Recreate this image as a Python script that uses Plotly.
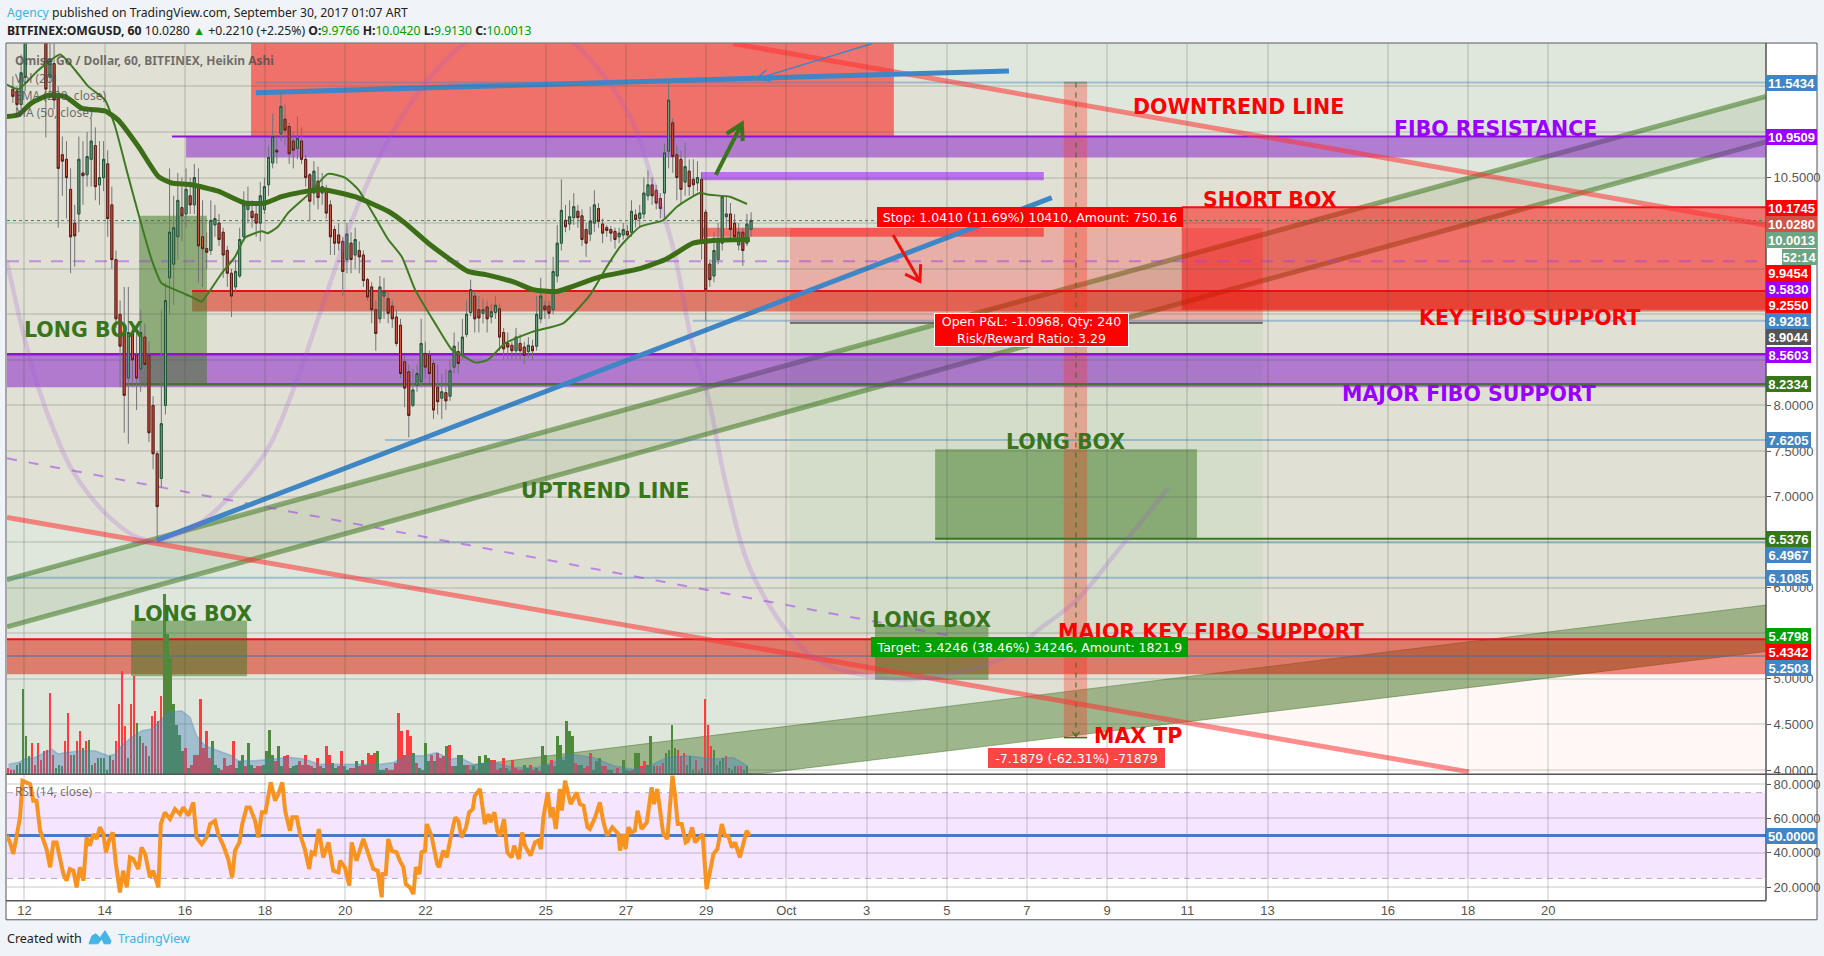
from datetime import datetime, timedelta
import plotly.graph_objects as go

# ---------- candle data (about 2.5 h sampling) ----------
candle_open = [11.47,11.45,11.30,11.60,12.05,12.30,12.40,12.50,12.10,11.60,11.75,11.40,10.75,10.70,10.37,10.00,10.10,10.55,10.53,10.70,10.85,10.42,10.50,10.65,10.20,9.60,9.00,8.80,8.30,8.80,8.55,8.40,8.75,8.55,8.00,7.47,7.20,8.00,9.40,9.55,9.85,10.17,10.10,10.30,10.20,10.40,9.85,9.72,9.70,9.98,10.00,9.90,9.70,9.45,9.30,9.42,9.85,10.15,10.13,10.10,10.00,
 10.15,10.42,10.66,10.80,10.98,11.14,11.06,10.90,10.82,10.90,10.70,10.53,10.33,10.46,10.33,10.37,10.20,9.93,9.87,9.80,9.60,9.78,9.65,9.70,9.65,9.38,9.30,9.05,8.95,9.20,9.17,9.09,8.97,8.88,8.48,8.37,8.00,8.22,8.26,8.57,8.55,8.46,8.20,8.08,8.14,8.10,8.42,8.59,8.56,8.78,9.02,9.20,9.05,9.01,9.08,8.97,9.02,9.06,8.80,
 8.68,8.66,8.60,8.68,8.64,8.59,8.65,8.65,8.95,9.09,9.09,9.05,9.42,9.78,10.03,9.99,10.06,10.13,10.08,9.93,9.88,10.00,10.16,9.99,9.95,9.93,9.91,9.85,9.87,9.91,9.90,10.09,10.05,10.10,10.30,10.42,10.36,10.27,10.33,10.79,11.10,10.75,10.70,10.45,10.57,10.48,10.44,10.48,10.12,9.55,9.42,9.60,9.78,10.07,10.10,10.00,9.76,9.90,9.78,9.93]
candle_high = [11.61,11.50,11.85,12.10,12.50,12.70,12.80,12.70,12.30,12.10,12.00,11.50,10.95,10.90,10.60,10.20,10.95,10.90,11.00,11.15,11.05,10.90,10.90,10.80,10.40,9.70,9.15,9.30,9.30,8.90,8.80,9.05,8.90,8.70,8.10,7.50,9.05,9.35,10.60,10.30,10.55,10.50,10.60,10.50,10.65,10.60,10.25,9.90,10.25,10.20,10.10,9.95,9.75,9.50,9.60,9.95,10.35,10.40,10.25,10.20,10.45,
 10.50,10.85,11.20,10.95,11.45,11.30,11.10,11.00,11.17,11.05,10.75,10.55,10.68,10.62,10.55,10.42,10.25,9.97,10.00,9.85,10.00,9.90,9.95,9.80,9.70,9.40,9.35,9.15,9.42,9.40,9.25,9.15,9.05,8.95,8.55,8.45,8.40,8.45,8.95,8.70,8.60,8.50,8.45,8.35,8.40,8.50,8.80,8.70,8.95,9.15,9.38,9.25,9.20,9.17,9.15,9.12,9.20,9.12,8.85,
 8.80,8.70,8.85,8.78,8.70,8.75,8.72,9.20,9.40,9.15,9.15,9.63,9.98,10.48,10.20,10.25,10.33,10.20,10.15,10.00,10.18,10.36,10.22,10.05,9.98,9.97,9.95,9.95,10.00,9.98,10.25,10.15,10.20,10.50,10.58,10.50,10.42,10.33,10.87,11.55,11.15,10.85,10.80,10.88,10.70,10.70,10.68,10.55,10.15,9.60,9.90,10.00,10.30,10.30,10.22,10.10,10.00,9.95,10.10,10.12]
candle_low = [11.32,11.25,11.25,11.45,12.00,12.20,12.20,12.00,10.94,11.40,11.25,9.95,10.30,10.05,9.45,9.52,9.90,10.20,10.40,10.40,10.25,10.20,10.35,9.85,9.50,8.85,8.20,7.70,7.58,8.20,7.95,8.15,8.20,7.60,7.30,6.52,7.10,7.90,9.00,9.10,9.60,9.80,9.95,10.10,10.10,9.35,9.30,9.50,9.65,9.85,9.75,9.40,9.30,8.97,9.25,9.40,9.80,10.00,9.95,9.85,9.80,
 10.10,10.30,10.60,10.65,10.90,10.85,10.65,10.60,10.70,10.65,10.40,10.02,10.20,10.15,10.20,10.05,9.65,9.65,9.70,9.20,9.45,9.45,9.50,9.45,9.30,9.15,8.90,8.60,8.90,8.95,8.90,8.85,8.65,8.30,7.98,7.65,7.98,8.15,8.20,8.30,8.25,7.85,7.90,7.85,7.95,8.05,8.35,8.35,8.50,8.75,8.98,8.80,8.80,8.90,8.80,8.90,8.95,8.60,8.50,
 8.50,8.50,8.50,8.50,8.45,8.52,8.50,8.60,8.90,8.95,8.95,9.00,9.35,9.70,9.90,9.92,9.98,9.95,9.75,9.63,9.80,9.90,9.95,9.78,9.85,9.80,9.72,9.78,9.82,9.85,9.85,9.95,9.95,10.05,10.25,10.20,10.15,10.05,10.05,10.60,10.55,10.25,10.20,10.30,10.30,10.30,10.35,9.60,8.93,9.30,9.35,9.55,9.70,9.95,9.80,9.80,9.70,9.53,9.75,9.85]
candle_close = [11.39,11.30,11.65,12.05,12.30,12.40,12.50,12.30,11.47,11.80,11.35,10.60,10.68,10.50,9.85,9.86,10.70,10.52,10.73,10.90,10.40,10.50,10.70,10.05,9.60,8.95,8.65,8.11,8.80,8.50,8.30,8.80,8.45,7.70,7.47,6.89,7.80,9.15,9.90,9.95,10.25,10.08,10.37,10.20,10.50,9.75,9.72,9.68,10.03,10.05,9.82,9.65,9.45,9.20,9.47,9.82,10.20,10.22,10.06,10.00,10.30,
 10.40,10.72,10.95,10.78,11.28,11.02,10.76,10.80,10.93,10.70,10.50,10.24,10.57,10.28,10.40,10.11,9.85,9.78,9.78,9.47,9.88,9.60,9.82,9.63,9.37,9.19,9.05,8.79,9.30,9.25,9.01,8.95,8.68,8.35,8.19,7.89,8.17,8.35,8.68,8.42,8.35,7.95,8.04,8.15,8.05,8.38,8.65,8.46,8.75,9.00,9.27,8.95,8.96,9.05,8.95,9.03,9.10,8.75,8.62,
 8.64,8.60,8.75,8.60,8.55,8.66,8.60,9.00,9.20,9.05,9.01,9.47,9.78,10.14,9.96,10.07,10.18,10.06,9.82,9.78,10.02,10.20,10.02,9.89,9.92,9.89,9.82,9.89,9.93,9.87,10.13,10.04,10.11,10.33,10.42,10.30,10.22,10.16,10.77,11.35,10.73,10.50,10.37,10.62,10.40,10.42,10.50,9.78,9.27,9.38,9.70,9.83,10.29,10.10,9.93,9.85,9.90,9.70,9.99,10.03]

# moving averages: day offset from 12 Sep, price
ema200_day = [-0.44,-0.15,0.18,0.59,1.01,1.43,2.01,2.34,2.84,3.34,3.67,4.17,4.83,5.50,6.0,6.41,6.91,7.41,8.24,9.07,9.49,10.07,11.06,11.56,12.23,12.68,13.27,14.35,15.35,16.02,16.67,17.17,18.09]
ema200_val = [11.17,11.19,11.32,11.40,11.39,11.26,11.23,11.13,10.84,10.51,10.44,10.42,10.35,10.22,10.22,10.29,10.34,10.37,10.29,10.13,10.0,9.78,9.47,9.43,9.35,9.27,9.25,9.41,9.50,9.61,9.78,9.81,9.82]
ma50_day = [-0.44,-0.15,0.35,0.89,1.26,1.59,2.01,2.26,2.59,2.88,3.17,3.42,3.75,4.17,4.42,4.58,4.92,5.25,5.50,5.92,6.07,6.32,6.57,7.07,7.57,7.99,8.32,8.74,9.07,9.41,9.74,10.24,10.66,10.91,11.24,11.56,11.98,12.68,13.43,14.10,14.52,14.85,15.35,15.92,16.27,16.84,17.09,17.59,18.02]
ma50_val = [11.52,11.47,11.68,11.85,11.68,11.50,11.35,11.06,10.51,10.04,9.60,9.34,9.27,9.19,9.14,9.23,9.45,9.63,9.84,9.91,9.89,9.96,10.11,10.31,10.54,10.50,10.37,10.07,9.82,9.63,9.27,8.90,8.61,8.55,8.47,8.50,8.68,8.81,8.90,9.21,9.52,9.74,9.96,10.03,10.18,10.33,10.31,10.29,10.21]

# volume: negative numbers are red bars, positive numbers green bars
volume_signed = [-20,-15,-15,30,35,255,115,55,-95,-30,-95,-45,-70,-75,-245,-60,20,30,25,-100,-185,-60,60,-100,-130,80,-100,105,30,-35,50,50,50,15,55,-45,-100,-210,-310,-145,50,-210,-295,155,115,-95,-85,55,-175,-190,-160,-235,540,420,350,210,150,120,70,-80,20,-30,-60,-60,-225,-80,-130,-50,100,30,20,-15,-50,-25,-30,-100,20,40,60,-25,95,30,-20,-25,-25,30,70,135,60,-40,85,25,-55,-60,20,25,30,-40,-30,-60,-30,-25,20,-50,-25,20,-85,-60,35,20,-25,-70,25,15,-20,-20,40,-25,-45,-30,-65,
 -60,-65,70,15,15,-20,-15,-15,-35,-185,-130,-60,-135,-115,65,-35,20,-15,95,40,-60,40,-65,-50,-55,85,-90,-25,25,60,60,30,-30,15,25,-15,55,35,60,50,-45,-45,-15,20,-50,20,10,-45,-20,-15,-15,30,20,-30,-15,20,-10,85,60,30,-45,25,115,90,45,160,130,115,-35,30,30,-20,-25,-65,15,40,50,-25,-25,15,15,-5,-20,5,45,15,10,-15,65,65,-25,-40,30,115,25,-25,-25,-35,65,75,150,80,-75,-55,-65,30,55,15,-45,10,20,-225,-150,-85,75,30,40,50,-55,20,15,25,-25,-25,15,25,3]
vol_ma_day = [-0.40,-0.15,0.01,0.26,0.51,0.68,0.84,1.01,1.43,1.76,2.09,2.26,2.42,2.67,2.92,3.17,3.42,3.59,3.92,4.13,4.29,4.50,4.83,5.17,5.33,5.75,6.16,6.66,7.0,7.33,7.83,8.66,8.87,9.2,9.53,9.95,10.28,10.61,10.86,11.19,11.69,12.19,12.77,13.19,13.60,14.19,14.69,15.18,15.52,16.02,16.52,17.18,17.68,18.02]
vol_ma_val = [30,35,45,50,65,75,60,65,70,70,55,60,85,110,130,135,165,185,190,170,115,85,70,55,40,40,45,50,45,30,30,30,30,35,55,55,65,45,50,30,35,20,20,35,60,50,25,15,20,50,55,45,50,25]

# RSI (14): day offset from 12 Sep, value
rsi_day = [-.44,-.36,-.28,-.20,-.11,-.05,.05,.14,.22,.30, .39,.47,.55,.64,.72,.80,.89,.97,1.05,1.13, 1.22,1.30,1.38,1.47,1.55,1.63,1.72,1.80,1.88,1.97,
 2.03,2.12,2.20,2.28,2.38,2.46,2.55,2.63,2.71,2.84, 2.92,3.01,3.13,3.21,3.34,3.40,3.50,3.63,3.75,3.88, 3.96,4.09,4.21,4.29,4.42,4.54,4.63,4.75,4.83,4.96,
 5.08,5.18,5.25,5.36,5.43,5.54,5.62,5.75,5.83,5.92, 6.01,6.14,6.25,6.33,6.43,6.50,6.62,6.68,6.79,6.87, 6.99,7.10,7.16,7.24,7.34,7.45,7.58,7.70,7.83,7.87,
 7.99,8.10,8.16,8.28,8.45,8.57,8.70,8.81,8.91,
 8.93,9.01,9.07,9.16,9.28,9.36,9.45,9.51,9.61,9.70, 9.76,9.85,9.90,9.99,10.03,10.15,10.29,10.34,10.44,10.53, 10.63,10.74,10.82,10.90,11.01,11.09,11.18,11.23,11.36,11.48,
 11.57,11.62,11.72,11.79,11.86,11.96,12.04,12.15,12.21,12.33, 12.41,12.48,12.62,12.73,12.81,12.88,12.94,13.05,13.12,13.17, 13.25,13.35,13.40,13.48,13.62,13.77,13.85,13.94,14.04,14.10,
 14.23,14.35,14.43,14.53,14.66,14.81,14.85,14.93,14.99,15.06, 15.14,15.22,15.29,15.39,15.52,15.64,15.70,15.78,15.93,16.03, 16.16,16.22,16.29,16.39,16.49,16.55,16.65,16.72,16.80,16.91,
 17.01,17.11,17.18,17.28,17.39,17.47,17.55,17.64,17.72,17.84, 17.97,18.01,18.09]
rsi_val = [49.9,46,39.2,48,60.6,81.9,81,80,70.3,70.3, 52.8,47,42.1,31.5,46,46,37.3,27.6,23.7,30.5, 29.5,19.8,31.5,23.7,48.9,44.1,50.9,48,54.8,50.9,
 40.2,48,51.8,33.4,16.9,29.5,19.8,37.3,36.3,30.5, 43.1,39.2,25.6,29.5,19.8,56.7,63.5,59.6,65.4,62.5, 66.4,61.6,69.3,48.9,45,48.9,56.7,58.6,50.9,44.1,
 36.3,25.6,41.2,46,56.7,66.4,66.4,58.6,48.9,63.5, 63.5,81,70.3,74.2,81,64.5,52.8,60.6,60.6,50.9, 42.1,30.5,40.2,39.2,53.8,37.3,46,29.5,28.5,35.3,
 31.5,20.8,46,35.3,48,39.2,30.5,29.5,14,
 27.6,27.6,48,41.2,40.2,35.3,31.5,21.7,19.8,15.9, 31.5,27.6,40.2,41.2,56.7,49.9,33.4,31.5,41.2,37.3, 48.9,60.6,58.6,48.9,54.8,63.5,65.4,73.2,77.1,56.7,
 62.5,57.7,63.5,52.8,49.9,59.6,40.2,37.3,44.1,36.3, 51.8,44.1,38.3,46,47,42.1,60.6,75.1,60.6,66.4, 53.8,77.1,64.5,81.9,68.3,75.1,68.3,67.4,54.8,53.8,
 60.6,69.3,58.6,49.9,54.8,50.9,41.2,50.9,42.1,54.8, 51.8,52.8,64.5,53.8,57.7,78.1,68.3,77.1,50.9,48, 84.9,74.2,56.7,56.7,46,47,54.8,46,48,50.9,
 18.8,29.5,39.2,42.1,56.7,49.9,49.9,43.1,46,37.3, 50.9,52.8,49.9]

tick_days = [0,2,4,6,8,10,13,15,17,19,21,23,25,27,29,31,34,36,38]
tick_text = ['12','14','16','18','20','22','25','27','29','Oct','3','5','7','9','11','13','16','18','20']
price_ticks = [4.0,4.5,5.0,5.5,6.0,6.5,7.0,7.5,8.0,8.5,9.0,9.5,10.0,10.5,11.0,11.5]
price_tick_text = ['4.0000','4.5000','5.0000','','6.0000','','7.0000','7.5000','8.0000','','','','','10.5000','','']
rsi_ticks = [20,40,60,80]
rsi_tick_text = ['20.0000','40.0000','60.0000','80.0000']

# horizontal levels / zone prices
L_TOP_BLUE, L_FIB_HIGH, L_STOP, L_MID_PURPLE, L_FIB_KEY = 11.5434, 10.9509, 9.9454, 9.5830, 9.2550
L_BLUE2, L_ENTRY, L_FIB_LOW, L_GREEN1 = 8.9281, 8.9044, 8.5603, 8.2334
L_BLUE3, L_GREEN2, L_BLUE4, L_BLUE5 = 7.6205, 6.5376, 6.4967, 6.1085
L_TARGET, L_KEY2, L_BLUE6, L_LAST, L_SHORT = 5.4798, 5.4342, 5.2503, 10.0280, 10.1745

# price scale labels: text, colour, centre pixel
axis_tags = [('11.5434','#4285c4',82.5),('10.9509','#9900ff',137),('10.1745','#ff0000',207.5),('10.0280','#cf5346',223.5),('10.0013','#6ba583',239.5),
             ('9.9454','#ff0000',273),('9.5830','#9900ff',289),('9.2550','#ff0000',305),('8.9281','#4285c4',321),('8.9044','#555555',337),
             ('8.5603','#9900ff',355),('8.2334','#38761d',383.5),('7.6205','#4285c4',440),('6.5376','#38761d',539),('6.4967','#4285c4',555),
             ('6.1085','#4285c4',578),('5.4798','#00a000',635),('5.4342','#ff0000',651),('5.2503','#4285c4',667)]

# arc drawing (day, price)
arc_day = [-0.44,-0.41,0.01,0.34,0.76,1.19,2.01,2.83,3.30,4.38,5.2,6.05,6.7,7.37,8.24,9.07,10.06,11.03,12.3,13.5,14.53,15.18,15.6,16.17,16.67,17.04,17.52,18.24,19.69,21.43,22.48,24.4,25.35,26.23,27.27,28.52]
arc_val = [9.58,9.52,8.72,8.20,7.70,7.29,6.82,6.55,6.52,6.71,7.04,7.51,8.17,9.01,10.11,10.91,11.57,12.0,12.35,12.05,11.57,11.10,10.55,9.74,8.64,8.11,7.09,6.07,5.23,5.01,5.01,5.23,5.56,5.86,6.41,7.09]

W, H = 1824, 956
HF = 952.2   # effective page height seen in the rendered picture
BASE = datetime(2017, 9, 12)
XL, XR = -0.436, 43.43
def t(d):
    return (BASE + timedelta(days=d)).strftime('%Y-%m-%d %H:%M:%S')
def tp(d):
    return t(d).replace(' ', '_')
def X(px): return px / W
def Y(py): return 1 - py / HF

def rect(x0, x1, y0, y1, fill, line=None):
    return dict(type='rect', xref='x', yref='y', x0=t(x0), x1=t(x1), y0=y0, y1=y1, fillcolor=fill, line=dict(width=1, color=line) if line else dict(width=0), layer='below')
def seg(x0, y0, x1, y1, color, width=2, dash='solid'):
    return dict(type='line', xref='x', yref='y', x0=t(x0), x1=t(x1), y0=y0, y1=y1, line=dict(color=color, width=width, dash=dash), layer='below')
def poly(points, fill=None, line=None, width=0, closed=True):
    d = 'M' + ' L'.join(f'{tp(a)},{b}' for a, b in points) + (' Z' if closed else '')
    return dict(type='path', xref='x', yref='y', path=d, fillcolor=fill or 'rgba(0,0,0,0)', line=dict(color=line or 'rgba(0,0,0,0)', width=width), layer='below')

GRN_LINE = '#38761d'
BLUE_LVL = 'rgba(66,133,194,0.42)'
RED_TL = 'rgba(255,50,50,0.55)'
GRN_TL = 'rgba(70,125,40,0.58)'
ARC = 'rgba(165,85,220,0.22)'
GRID = 'rgba(70,80,60,0.15)'

shapes = [
    dict(type='rect', xref='paper', yref='paper', x0=X(6), x1=X(1817), y0=Y(43), y1=Y(919), fillcolor='white', line=dict(color='#555555', width=1), layer='below'),
    poly([(-1,13),(44,13),(43.43,5.30),(18.34,3.96),(18.34,3.5),(-1,3.5)], 'rgba(60,110,50,0.165)'),
    poly([(-0.436,13.37),(43.43,9.98),(43.43,3.41),(-0.436,6.77)], 'rgba(255,60,0,0.035)'),
    poly([(9.46,3.96),(43.43,5.81),(43.43,5.30),(18.34,3.96)], 'rgba(60,110,20,0.40)', 'rgba(70,120,40,0.5)', 1),
    poly([(XL,6.09),(XR,11.39),(XR,10.89),(XL,5.57)], 'rgba(60,110,20,0.10)'),
    seg(XL,6.09,XR,11.39,GRN_TL,5),
    seg(XL,5.57,XR,10.89,GRN_TL,5),
    # position tool
    rect(19.09,30.88,L_ENTRY,L_STOP,'rgba(255,0,0,0.22)'),
    rect(19.09,30.88,L_TARGET,L_ENTRY,'rgba(0,150,0,0.05)'),
    # red and purple zones
    rect(5.65,21.68,L_FIB_HIGH,12.5,'rgba(255,0,0,0.5)'),
    rect(4.03,XR,10.72,L_FIB_HIGH,'rgba(130,20,200,0.5)'),
    rect(16.87,25.42,10.47,10.56,'rgba(153,0,255,0.5)'),
    rect(16.89,25.42,9.85,9.95,'rgba(255,0,0,0.5)'),
    rect(28.86,XR,9.05,L_SHORT,'rgba(255,0,0,0.5)'),
    rect(4.18,XR,9.03,L_FIB_KEY,'rgba(220,20,0,0.5)'),
    rect(-1,XR,8.20,L_FIB_LOW,'rgba(130,20,200,0.5)'),
    rect(-1,XR,5.05,L_KEY2,'rgba(220,20,0,0.5)'),
    # long boxes
    rect(2.86,4.55,L_GREEN1,10.08,'rgba(60,120,30,0.5)'),
    rect(2.66,5.55,5.03,5.64,'rgba(60,120,30,0.5)'),
    rect(21.21,24.04,4.99,5.59,'rgba(60,120,30,0.5)'),
    rect(22.71,29.24,L_GREEN2,7.52,'rgba(60,120,30,0.5)'),
    # forecast
    rect(25.92,26.50,4.3555,L_TOP_BLUE,'rgba(255,40,20,0.30)'),
    seg(26.22,L_TOP_BLUE,26.22,4.3555,'rgba(56,118,29,0.75)',1.5,'5px,5px'),
    seg(25.92,4.3555,26.50,4.3555,GRN_LINE,1.5),
    seg(25.92,L_TOP_BLUE,26.50,L_TOP_BLUE,'rgba(56,118,29,0.5)',1.5),
    poly([(26.13,4.42),(26.22,4.37),(26.31,4.42)],None,GRN_LINE,1.2,False),
    # horizontal levels
    seg(5.77,L_TOP_BLUE,XR,L_TOP_BLUE,BLUE_LVL,2),
    seg(3.68,L_FIB_HIGH,XR,L_FIB_HIGH,'#8f12d8',2),
    seg(28.86,L_SHORT,XR,L_SHORT,'#f01010',2),
    seg(XL,L_LAST,XR,L_LAST,'rgba(34,120,80,0.85)',1,'dot'),
    seg(XL,L_MID_PURPLE,XR,L_MID_PURPLE,'rgba(160,60,235,0.5)',2,'12px,10px'),
    seg(4.18,L_FIB_KEY,XR,L_FIB_KEY,'#e81010',2),
    seg(16.67,L_BLUE2,XR,L_BLUE2,BLUE_LVL,2),
    seg(19.09,L_ENTRY,30.88,L_ENTRY,'#555555',1.5),
    seg(XL,L_FIB_LOW,XR,L_FIB_LOW,'#8f12d8',2.5),
    seg(2.51,L_GREEN1,XR,L_GREEN1,'#4a7034',2.5),
    seg(8.99,L_BLUE3,XR,L_BLUE3,BLUE_LVL,2),
    seg(22.71,L_GREEN2,XR,L_GREEN2,GRN_LINE,2),
    seg(2.68,L_BLUE4,XR,L_BLUE4,BLUE_LVL,2),
    seg(XL,L_BLUE5,XR,L_BLUE5,BLUE_LVL,2),
    seg(XL,L_KEY2,XR,L_KEY2,'#e81010',2),
    seg(XL,L_BLUE6,XR,L_BLUE6,'rgba(66,110,170,0.5)',2),
    # trend lines
    seg(17.67,11.97,XR,9.98,RED_TL,5),
    seg(XL,6.77,36.02,3.98,RED_TL,5),
    seg(XL,7.42,23.0,5.48,'rgba(160,60,235,0.55)',2,'10px,12px'),
    seg(3.30,6.52,25.62,10.28,'#3f86c6',5),
    seg(5.77,11.43,24.55,11.67,'#3f86c6',5),
    # arrows
    seg(18.24,11.58,21.14,11.97,'#3f86c6',1.5),
    poly([(18.62,11.56),(18.24,11.58),(18.5,11.68)],None,'#3f86c6',1.5,False),
    seg(17.24,10.53,17.89,11.09,GRN_LINE,4),
    poly([(17.51,10.98),(17.89,11.09),(17.91,10.90)],None,GRN_LINE,4,False),
    seg(21.66,9.87,22.33,9.36,'#f01010',3),
    poly([(21.96,9.44),(22.33,9.36),(22.35,9.55)],None,'#f01010',3,False),
    # pane frame
    dict(type='line', xref='paper', yref='paper', x0=X(1766), x1=X(1766), y0=Y(43), y1=Y(900), line=dict(color='#555555', width=1.5), layer='above'),
    dict(type='line', xref='paper', yref='paper', x0=X(6), x1=X(1817), y0=Y(773.5), y1=Y(773.5), line=dict(color='#555555', width=1.5), layer='above'),
    dict(type='line', xref='paper', yref='paper', x0=X(6), x1=X(1766), y0=Y(900), y1=Y(900), line=dict(color='#555555', width=1.5), layer='above'),
    # logo
    dict(type='path', xref='paper', yref='paper', layer='above', fillcolor='#45b5e6', line=dict(color='#45b5e6', width=1),
         path=f'M{X(89)},{Y(943)} L{X(92)},{Y(935)} L{X(96)},{Y(933)} L{X(100)},{Y(937)} L{X(105)},{Y(930)} L{X(111)},{Y(940)} L{X(110)},{Y(943)} L{X(104)},{Y(943)} L{X(102)},{Y(938)} L{X(98)},{Y(943)} Z'),
]

n_c = len(candle_open)
assert n_c == len(candle_high) == len(candle_low) == len(candle_close)
C0, C1 = -0.29, 18.12
c_days = [C0 + (C1 - C0) * i / (n_c - 1) for i in range(n_c)]
c_x = [t(d) for d in c_days]

n_v = len(volume_signed)
v_days = [-0.41 + (18.09 + 0.41) * i / (n_v - 1) for i in range(n_v)]
v_w = (18.5 / (n_v - 1)) * 0.85 * 86400000

fig = go.Figure()
fig.add_trace(go.Bar(x=[t(d) for d in v_days], y=[abs(v) for v in volume_signed], width=v_w,
                     marker=dict(color=['#ff3b3b' if v < 0 else '#4f8a3c' for v in volume_signed], line=dict(width=0)),
                     yaxis='y3', hoverinfo='skip', showlegend=False))
fig.add_trace(go.Scatter(x=[t(d) for d in vol_ma_day], y=vol_ma_val, mode='lines', fill='tozeroy', yaxis='y3',
                         line=dict(color='rgba(70,130,185,0.35)', width=1.5), fillcolor='rgba(70,130,185,0.40)', showlegend=False, hoverinfo='skip'))
fig.add_trace(go.Scatter(x=[t(d) for d in arc_day], y=arc_val, mode='lines', line=dict(color=ARC, width=4.5, shape='spline', smoothing=1.0), showlegend=False, hoverinfo='skip'))
fig.add_trace(go.Candlestick(x=c_x, open=candle_open, high=candle_high, low=candle_low, close=candle_close, whiskerwidth=0,
                             increasing=dict(line=dict(color='#737375', width=1), fillcolor='rgba(0,0,0,0)'),
                             decreasing=dict(line=dict(color='#737375', width=1), fillcolor='rgba(0,0,0,0)'), showlegend=False, hoverinfo='skip'))
fig.add_trace(go.Candlestick(x=c_x, open=candle_open, close=candle_close,
                             high=[max(a, b) for a, b in zip(candle_open, candle_close)],
                             low=[min(a, b) for a, b in zip(candle_open, candle_close)], whiskerwidth=0,
                             increasing=dict(line=dict(color='#225437', width=1), fillcolor='#6ba583'),
                             decreasing=dict(line=dict(color='#5b1a13', width=1), fillcolor='#d75442'), showlegend=False))
fig.add_trace(go.Scatter(x=[t(d) for d in ma50_day], y=ma50_val, mode='lines', line=dict(color='#3f7a22', width=2, shape='spline', smoothing=0.5), showlegend=False, hoverinfo='skip'))
fig.add_trace(go.Scatter(x=[t(d) for d in ema200_day], y=ema200_val, mode='lines', line=dict(color='#3c6e18', width=5, shape='spline', smoothing=0.5), showlegend=False, hoverinfo='skip'))
fig.add_trace(go.Scatter(x=[t(XL), t(XR)], y=[75, 75], yaxis='y2', mode='lines', line=dict(color='rgba(120,100,140,0.5)', width=1, dash='6px,5px'), showlegend=False, hoverinfo='skip'))
fig.add_trace(go.Scatter(x=[t(XL), t(XR)], y=[25, 25], yaxis='y2', mode='lines', line=dict(color='rgba(120,100,140,0.5)', width=1, dash='6px,5px'), fill='tonexty', fillcolor='rgba(153,0,255,0.10)', showlegend=False, hoverinfo='skip'))
fig.add_trace(go.Scatter(x=[t(XL), t(XR)], y=[50, 50], yaxis='y2', mode='lines', line=dict(color='#4a78c4', width=3), showlegend=False, hoverinfo='skip'))
fig.add_trace(go.Scatter(x=[t(d) for d in rsi_day], y=rsi_val, yaxis='y2', mode='lines', line=dict(color='#f7931e', width=4), showlegend=False, hoverinfo='skip'))

ann = []
def text(px, py, s, color, size, font='DejaVu Sans', anchor='left', bold=False):
    ann.append(dict(xref='paper', yref='paper', x=X(px), y=Y(py), text=f'<b>{s}</b>' if bold else s, showarrow=False,
                    xanchor=anchor, yanchor='middle', font=dict(color=color, size=size, family=font), align='left'))
def box(x0, x1, y0, y1, s, bg, size=12.5, border=None, font='DejaVu Sans'):
    ann.append(dict(xref='paper', yref='paper', x=X(x0), y=Y(y0), xanchor='left', yanchor='top', width=x1 - x0, height=y1 - y0,
                    text=s, showarrow=False, bgcolor=bg, borderpad=0, borderwidth=1 if border else 0, bordercolor=border or bg,
                    font=dict(color='white', size=size, family=font), align='center', valign='middle'))

SANS = 'Noto Sans'
text(4.5, 12, '<span style="color:#3bb3e4">Agency</span> published on TradingView.com, September 30, 2017 01:07 ART', '#222', 12.2, SANS)
G = '#00a000'
text(4.5, 30, f'<b>BITFINEX:OMGUSD, 60</b> 10.0280 <span style="color:{G}">▲</span> +0.2210 (+2.25%) <b>O:</b><span style="color:{G}">9.9766</span> <b>H:</b><span style="color:{G}">10.0420</span> <b>L:</b><span style="color:{G}">9.9130</span> <b>C:</b><span style="color:{G}">10.0013</span>', '#222', 12.2, SANS)
text(4.5, 938, 'Created with', '#222', 12.5, SANS)
text(116, 938, 'TradingView', '#3bb3e4', 12.5, SANS)

LEG = 'rgba(70,70,70,0.75)'
text(13, 60, 'Omise Go / Dollar, 60, BITFINEX, Heikin Ashi', LEG, 12, SANS, bold=True)
text(13, 78, 'Vol (20)', LEG, 12, SANS)
text(13, 95, 'EMA (200, close)', LEG, 12, SANS)
text(13, 112, 'MA (50, close)', LEG, 12, SANS)
text(13, 791, 'RSI (14, close)', LEG, 12, SANS)

RED, PUR, GRN = '#ff0000', '#9900ff', '#38761d'
for px, py, s, c in [(1131,107,'DOWNTREND LINE',RED),(1392,129,'FIBO RESISTANCE',PUR),(1201,200,'SHORT BOX',RED),(1417,318,'KEY FIBO SUPPORT',RED),
                     (22,330,'LONG BOX',GRN),(1340,394,'MAJOR FIBO SUPPORT',PUR),(1004,442,'LONG BOX',GRN),(519,491,'UPTREND LINE',GRN),
                     (131,613,'LONG BOX',GRN),(870,619,'LONG BOX',GRN),(1056,631,'MAJOR KEY FIBO SUPPORT',RED),(1092,735,'MAX TP',RED)]:
    text(px, py, s, c, 20.5, 'DejaVu Sans', bold=True)

box(877, 1183, 207, 227, 'Stop: 1.0410 (11.69%) 10410, Amount: 750.16', '#ff0000')
box(934, 1127, 313, 345, 'Open P&amp;L: -1.0968, Qty: 240<br>Risk/Reward Ratio: 3.29', '#ff0000', border='#ffffff')
box(871, 1188, 636, 656, 'Target: 3.4246 (38.46%) 34246, Amount: 1821.9', '#00a000')
box(988, 1165, 747, 767, '-7.1879 (-62.31%) -71879', '#ff4444')

TAG = 'Liberation Sans'
for s, c, py in axis_tags:
    w = 51 if len(s) == 7 else 45
    box(1766, 1766 + w, py - 8, py + 8, f'<b>{s}</b>', c, 13, font=TAG)
box(1782, 1817, 249, 265, '<b>52:14</b>', '#6ba583', 13, font=TAG)
box(1766, 1817, 827, 843, '<b>50.0000</b>', '#4285c4', 13, font=TAG)

fig.update_layout(
    width=W, height=H, margin=dict(l=0, r=0, t=0, b=0), autosize=False,
    paper_bgcolor='#f0f3f7', plot_bgcolor='white', showlegend=False, bargap=0,
    font=dict(family='Liberation Sans', color='#555555', size=13),
    xaxis=dict(type='date', domain=[X(7), X(1766)], range=[t(XL), t(XR)], anchor='y2', rangeslider=dict(visible=False),
               tickmode='array', tickvals=[t(d) for d in tick_days], ticktext=tick_text, showgrid=True, gridcolor=GRID, gridwidth=1.5,
               ticks='', showline=False, zeroline=False, tickfont=dict(size=13, color='#555555', family='Liberation Sans')),
    yaxis=dict(domain=[Y(773.5), Y(43.5)], range=[3.955, 11.97], side='right', anchor='x', tickmode='array', tickvals=price_ticks, ticktext=price_tick_text,
               showgrid=True, gridcolor=GRID, gridwidth=1.5, ticks='outside', ticklen=4, tickcolor='#555555', showline=False, zeroline=False,
               tickfont=dict(size=13, color='#555555', family='Liberation Sans')),
    yaxis2=dict(domain=[Y(900), Y(774)], range=[12.0, 85.48], side='right', anchor='x', tickmode='array', tickvals=rsi_ticks, ticktext=rsi_tick_text,
                showgrid=True, gridcolor=GRID, gridwidth=1.5, ticks='outside', ticklen=4, tickcolor='#555555', showline=False, zeroline=False,
                tickfont=dict(size=13, color='#555555', family='Liberation Sans')),
    yaxis3=dict(domain=[Y(773.5), Y(43.5)], range=[0, 2187], overlaying='y', side='left', anchor='x', visible=False, showgrid=False, zeroline=False),
    shapes=shapes, annotations=ann, hovermode=False,
)
fig.write_html('out.html', config={'displayModeBar': False},
               post_script="document.body.style.margin='0';document.body.style.overflow='hidden';")
